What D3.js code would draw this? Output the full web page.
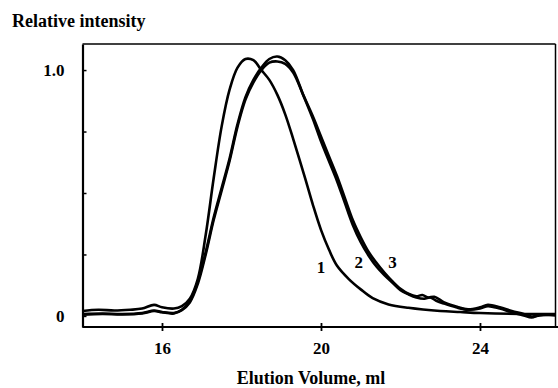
<!DOCTYPE html>
<html>
<head>
<meta charset="utf-8">
<script src="https://cdn.jsdelivr.net/npm/d3@7"></script>
<style>
  html, body { margin: 0; padding: 0; background: #fff; }
  svg text { font-family: "Liberation Serif", "Times New Roman", serif; font-weight: bold; fill: #000; }
</style>
</head>
<body>
<svg id="chart"></svg>
<script>
// Elution profiles: [volume (ml), relative intensity]
const curve1 = [
  [14.0, 0.02], [14.4, 0.025], [14.8, 0.022], [15.2, 0.025], [15.5, 0.03], [15.8, 0.045],
  [16.0, 0.035], [16.3, 0.03], [16.5, 0.04], [16.7, 0.07], [16.9, 0.15], [17.1, 0.33],
  [17.3, 0.56], [17.5, 0.77], [17.7, 0.92], [17.9, 1.01], [18.1, 1.045], [18.3, 1.04],
  [18.5, 1.0], [18.7, 0.96], [18.9, 0.9], [19.1, 0.82], [19.3, 0.72], [19.6, 0.56],
  [19.8, 0.45], [20.0, 0.35], [20.2, 0.27], [20.4, 0.205], [20.7, 0.15], [21.0, 0.108],
  [21.3, 0.072], [21.7, 0.047], [22.2, 0.033], [23.0, 0.02], [23.5, 0.016], [24.0, 0.012],
  [25.0, 0.008], [25.9, 0.008]
];
const curve2 = [
  [14.0, 0.005], [14.5, 0.008], [15.0, 0.006], [15.5, 0.01], [15.8, 0.02], [16.0, 0.015],
  [16.3, 0.01], [16.5, 0.025], [16.7, 0.06], [16.9, 0.14], [17.1, 0.26], [17.3, 0.4],
  [17.5, 0.52], [17.7, 0.64], [17.9, 0.78], [18.1, 0.89], [18.3, 0.96], [18.5, 1.01],
  [18.7, 1.045], [18.9, 1.055], [19.1, 1.04], [19.3, 1.0], [19.55, 0.9], [19.8, 0.8],
  [20.0, 0.71], [20.2, 0.63], [20.4, 0.55], [20.6, 0.46], [20.8, 0.37], [21.0, 0.3],
  [21.2, 0.245], [21.4, 0.2], [21.6, 0.165], [21.8, 0.135], [22.0, 0.105], [22.2, 0.088],
  [22.4, 0.075], [22.6, 0.07], [22.75, 0.075], [22.9, 0.062], [23.1, 0.05], [23.4, 0.035],
  [23.7, 0.025], [24.0, 0.03], [24.2, 0.04], [24.5, 0.03], [24.8, 0.015], [25.1, 0.002],
  [25.3, -0.006], [25.5, 0.004], [25.9, 0.002]
];
const curve3 = [
  [14.0, 0.008], [14.5, 0.01], [15.0, 0.008], [15.5, 0.012], [15.8, 0.022], [16.0, 0.016],
  [16.3, 0.012], [16.5, 0.024], [16.7, 0.055], [16.9, 0.13], [17.1, 0.25], [17.3, 0.39],
  [17.5, 0.51], [17.7, 0.63], [17.9, 0.77], [18.1, 0.88], [18.3, 0.95], [18.5, 1.0],
  [18.7, 1.03], [18.9, 1.035], [19.1, 1.025], [19.3, 0.99], [19.55, 0.9], [19.8, 0.81],
  [20.0, 0.73], [20.2, 0.65], [20.4, 0.57], [20.6, 0.48], [20.8, 0.39], [21.0, 0.32],
  [21.2, 0.26], [21.4, 0.215], [21.6, 0.175], [21.8, 0.14], [22.0, 0.11], [22.2, 0.09],
  [22.4, 0.08], [22.55, 0.085], [22.7, 0.075], [22.85, 0.078], [23.1, 0.055], [23.4, 0.038],
  [23.7, 0.027], [24.0, 0.035], [24.2, 0.045], [24.5, 0.035], [24.8, 0.02], [25.1, 0.008],
  [25.3, -0.002], [25.5, 0.002], [25.9, 0.006]
];
const series = [curve1, curve2, curve3];

// Curve number labels: [volume, intensity, text]
const curveLabels = [[20.0, 0.2, '1'], [20.95, 0.22, '2'], [21.8, 0.22, '3']];

const xTicks = [16, 20, 24];
const yTicks = [0, 0.25, 0.5, 0.75, 1.0];
const yTickLabels = { 0: '0', 1: '1.0' };

const width = 558, height = 388;

const svg = d3.select('#chart')
  .attr('width', width)
  .attr('height', height)
  .attr('viewBox', `0 0 ${width} ${height}`);

const x = d3.scaleLinear().domain([14, 25.9]).range([82.5, 555.5]);
const y = d3.scaleLinear().domain([-0.045, 1.106]).range([327, 44]);

// Frame
svg.append('line')
  .attr('x1', x.range()[0]).attr('x2', x.range()[1])
  .attr('y1', y.range()[1]).attr('y2', y.range()[1])
  .attr('stroke', '#000').attr('stroke-width', 1.5);
svg.append('line')
  .attr('x1', x.range()[1]).attr('x2', x.range()[1])
  .attr('y1', y.range()[1]).attr('y2', y.range()[0])
  .attr('stroke', '#000').attr('stroke-width', 1.5);

// Y axis — inward ticks, only 0 and 1.0 labelled
const yAxis = svg.append('g')
  .attr('transform', `translate(${x.range()[0]},0)`)
  .call(d3.axisLeft(y).tickValues(yTicks).tickSizeInner(-4).tickSizeOuter(0)
    .tickPadding(18).tickFormat(d => yTickLabels[d] || ''));
yAxis.select('.domain').attr('stroke-width', 2.2);
yAxis.selectAll('.tick line').attr('stroke-width', 1.5);
yAxis.selectAll('text').attr('font-size', '17px');

// X axis — ticks crossing the line
const xAxis = svg.append('g')
  .attr('transform', `translate(0,${y.range()[0]})`)
  .call(d3.axisBottom(x).tickValues(xTicks).tickSizeInner(4).tickSizeOuter(0)
    .tickPadding(11).tickFormat(d3.format('d')));
xAxis.select('.domain').attr('stroke-width', 2.2).attr('d', `M${x.range()[0]},0H${width}`);
xAxis.selectAll('.tick line').attr('y1', -4).attr('stroke-width', 1.8);
xAxis.selectAll('text').attr('font-size', '17px');

// Curves
const line = d3.line()
  .x(d => x(d[0]))
  .y(d => y(d[1]))
  .curve(d3.curveCatmullRom.alpha(0.5));

svg.append('g')
  .selectAll('path')
  .data(series)
  .join('path')
  .attr('d', line)
  .attr('fill', 'none')
  .attr('stroke', '#000')
  .attr('stroke-width', 2.6)
  .attr('stroke-linejoin', 'round');

// Curve numbers
svg.append('g')
  .selectAll('text')
  .data(curveLabels)
  .join('text')
  .attr('x', d => x(d[0]))
  .attr('y', d => y(d[1]))
  .attr('text-anchor', 'middle')
  .attr('dy', '0.35em')
  .attr('font-size', '17px')
  .text(d => d[2]);

// Titles
svg.append('text')
  .attr('x', 12)
  .attr('y', 27)
  .attr('font-size', '18px')
  .text('Relative intensity');

svg.append('text')
  .attr('x', 311)
  .attr('y', 384)
  .attr('text-anchor', 'middle')
  .attr('font-size', '18px')
  .text('Elution Volume, ml');
</script>
</body>
</html>
